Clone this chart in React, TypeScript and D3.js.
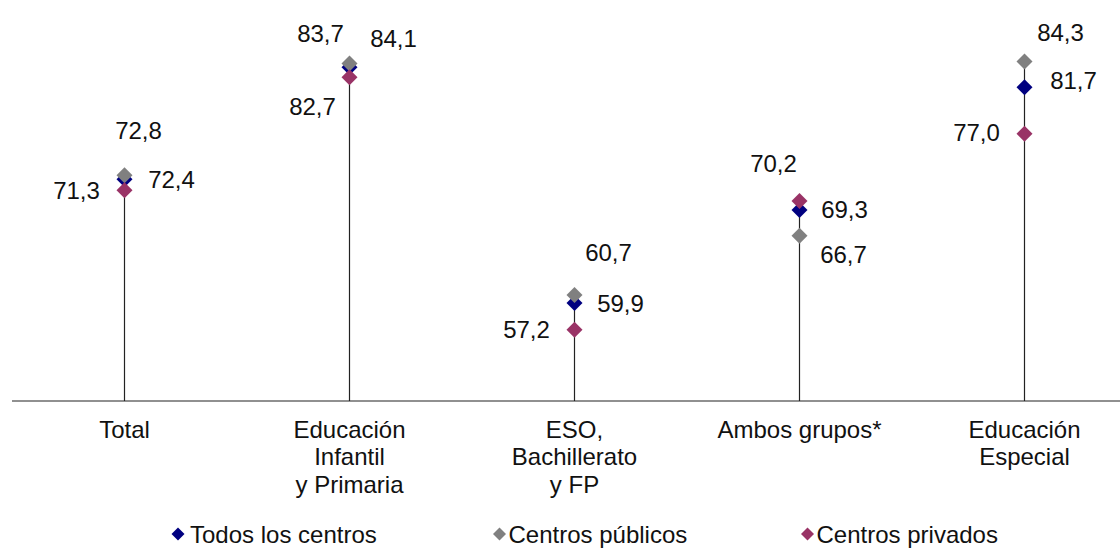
import * as d3 from 'd3'

const categories = ['Total', 'Educación\nInfantil\ny Primaria', 'ESO,\nBachillerato\ny FP', 'Ambos grupos*', 'Educación\nEspecial']
const todos = [72.4, 83.7, 59.9, 69.3, 81.7]
const publicos = [72.8, 84.1, 60.7, 66.7, 84.3]
const privados = [71.3, 82.7, 57.2, 70.2, 77.0]
const seriesNames = ['Todos los centros', 'Centros públicos', 'Centros privados']

// label offsets from each marker (layout only)
const offTodos = [[47, 0], [-29, -34], [46, 1], [45, 0], [49, -7]]
const offPublicos = [[14, -45], [44, -25], [34, -43], [44, 19], [36, -29]]
const offPrivados = [[-48, 0], [-37, 29], [-48, 0], [-26, -38], [-48, -1]]

const W = 1120
const H = 549
const FONT = '"Liberation Sans", Arial, sans-serif'
const FS = 24

const fmt = (v: number) => d3.format('.1f')(v).replace('.', ',')

function Diamond({ x, y, r, fill }: { x: number; y: number; r: number; fill: string }) {
  return <path d={`M${x},${y - r}L${x + r},${y}L${x},${y + r}L${x - r},${y}Z`} fill={fill} />
}

export default function App() {
  const x = d3.scaleBand<string>().domain(categories).range([12, 1137]).padding(0)
  const y = d3.scaleLinear().domain([50, 90]).range([401, 5])
  const cx = (c: string) => x(c)! + x.bandwidth() / 2

  const series = [
    { name: seriesNames[0], values: todos, color: '#000080', off: offTodos },
    { name: seriesNames[1], values: publicos, color: '#808080', off: offPublicos },
    { name: seriesNames[2], values: privados, color: '#993366', off: offPrivados },
  ]

  const legendPos = [178, 499.5, 807.5]

  return (
    <div style={{ position: 'absolute', left: 0, top: 0 }}>
      <svg width={W} height={H} style={{ display: 'block', background: '#fff' }} fontFamily={FONT}>
        {/* stems */}
        {categories.map((c, i) => {
          const top = Math.max(todos[i], publicos[i], privados[i])
          return <line key={c} x1={cx(c)} x2={cx(c)} y1={y(50)} y2={y(top)} stroke="#222" strokeWidth={1.2} />
        })}
        {/* axis */}
        <line x1={12} x2={W} y1={y(50)} y2={y(50)} stroke="#222" strokeWidth={1.2} />

        {/* markers */}
        {series.map(s => (
          <g key={s.name}>
            {s.values.map((v, i) => (
              <Diamond key={i} x={cx(categories[i])} y={y(v)} r={8} fill={s.color} />
            ))}
          </g>
        ))}

        {/* value labels */}
        {series.map(s => (
          <g key={s.name + 'l'} fontSize={FS} fill="#111" textAnchor="middle">
            {s.values.map((v, i) => (
              <text key={i} x={cx(categories[i]) + s.off[i][0]} y={y(v) + s.off[i][1] + 8.5}>
                {fmt(v)}
              </text>
            ))}
          </g>
        ))}

        {/* category labels */}
        <g fontSize={FS} fill="#111" textAnchor="middle">
          {categories.map(c => (
            <text key={c} x={cx(c)} y={437.5}>
              {c.split('\n').map((line, j) => (
                <tspan key={j} x={cx(c)} dy={j === 0 ? 0 : 27.5}>{line}</tspan>
              ))}
            </text>
          ))}
        </g>

        {/* legend */}
        <g fontSize={FS} fill="#111">
          {series.map((s, i) => (
            <g key={s.name}>
              <Diamond x={legendPos[i]} y={534} r={6.5} fill={s.color} />
              <text x={legendPos[i] + (i === 0 ? 12 : 9)} y={543}>{s.name}</text>
            </g>
          ))}
        </g>
      </svg>
    </div>
  )
}
